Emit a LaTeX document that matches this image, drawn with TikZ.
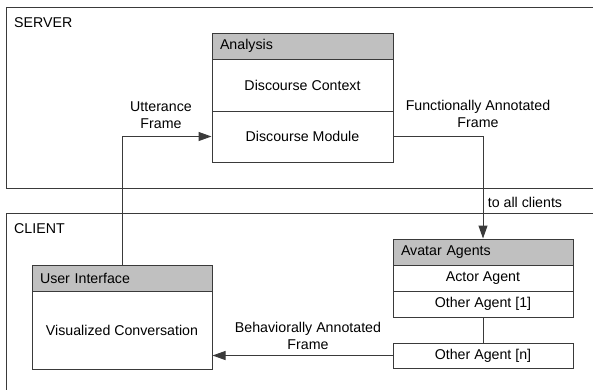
\documentclass[tikz,border=0pt]{standalone}
\usepackage{fontspec}
\setmainfont{Liberation Sans}
\usetikzlibrary{arrows.meta}
\definecolor{ln}{HTML}{3A3A3A}
\definecolor{hd}{HTML}{C0C0C0}
\begin{document}
\begin{tikzpicture}[x=1pt,y=-1pt,
  every node/.style={font=\fontsize{14.2}{17}\selectfont, text=black},
  cell/.style={draw=ln, line width=1pt, rectangle, inner sep=0pt, align=center},
  head/.style={cell, fill=hd, inner xsep=8pt, inner ysep=0pt, align=left},
  arr/.style={draw=ln, line width=1pt, -{Triangle[length=13pt,width=9pt]}},
  conn/.style={draw=ln, line width=1pt},
  lbl/.style={align=center, inner sep=0pt}]
\useasboundingbox (0,0) rectangle (593,389);
\begin{scope}
\clip (0,0) rectangle (593,389);
\draw[conn] (6,7) rectangle (620,188);
\draw[conn] (6,213) rectangle (620,420);
\end{scope}
\node[anchor=west, inner sep=0pt] (srv) at (14,23) {SERVER};
\node[anchor=west, inner sep=0pt] (cli) at (14,228.5) {CLIENT};
% Analysis
\node[head, text width=165pt, minimum height=26pt] (anh) at (302.5,46) {Analysis};
\node[cell, minimum width=181pt, minimum height=52pt] (dc) at (302.5,85) {Discourse Context};
\node[cell, minimum width=181pt, minimum height=51pt] (dm) at (302.5,136.5) {Discourse Module};
% User interface
\node[head, text width=164pt, minimum height=26pt] (uih) at (122,278) {User Interface};
\node[cell, minimum width=180pt, minimum height=78pt] (uib) at (122,330) {Visualized Conversation};
% Avatar agents
\node[head, text width=164pt, minimum height=26pt] (avh) at (483,252) {Avatar Agents};
\node[cell, minimum width=180pt, minimum height=26pt] (act) at (483,278) {Actor Agent};
\node[cell, minimum width=180pt, minimum height=26pt] (o1) at (483,304) {Other Agent [1]};
\node[cell, minimum width=180pt, minimum height=25pt] (on) at (483,355.5) {Other Agent [n]};
% connectors
\draw[arr] (uih.north) |- (dm.west);
\draw[arr] (dm.east) -| (avh.north);
\draw[conn] (o1.south) -- (on.north);
\draw[arr] (on.west) -- (on.west -| uib.east);
% labels
\node[lbl] (l1) at (161,115.5) {Utterance\\Frame};
\node[lbl] (l2) at (478,113.5) {Functionally Annotated\\Frame};
\node[lbl] (l3) at (525,202) {to all clients};
\node[lbl] (l4) at (308,335.5) {Behaviorally Annotated\\Frame};
\end{tikzpicture}
\end{document}
